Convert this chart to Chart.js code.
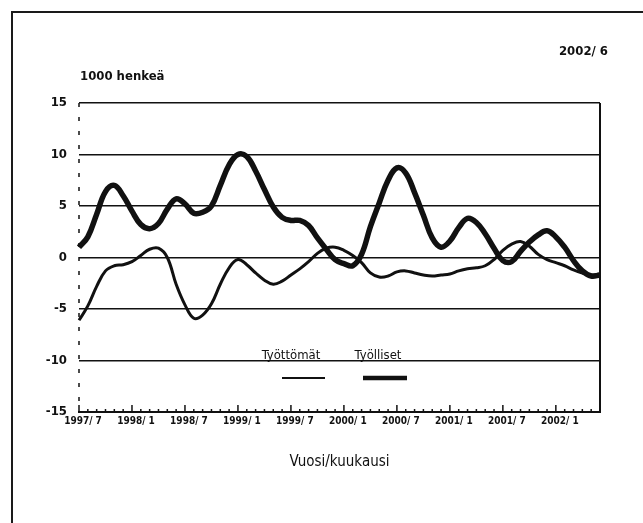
<!DOCTYPE html>
<html>
<head>
<meta charset="utf-8">
<script src="https://cdn.jsdelivr.net/npm/chart.js@4/dist/chart.umd.min.js"></script>
<style>
  html, body { margin: 0; padding: 0; background: #fff; overflow: hidden; }
  #wrap { position: relative; width: 643px; height: 523px; }
  #frame { position: absolute; left: 11px; top: 11px; width: 700px; height: 600px; border: 2px solid #1a1a1a; }
  #c { position: absolute; left: 0; top: 0; }
</style>
</head>
<body>
<div id="wrap">
  <div id="frame"></div>
  <canvas id="c" width="643" height="523"></canvas>
</div>
<script>
// monthly categories 1997/7 .. 2002/6
var months = [
  '1997/7','1997/8','1997/9','1997/10','1997/11','1997/12',
  '1998/1','1998/2','1998/3','1998/4','1998/5','1998/6',
  '1998/7','1998/8','1998/9','1998/10','1998/11','1998/12',
  '1999/1','1999/2','1999/3','1999/4','1999/5','1999/6',
  '1999/7','1999/8','1999/9','1999/10','1999/11','1999/12',
  '2000/1','2000/2','2000/3','2000/4','2000/5','2000/6',
  '2000/7','2000/8','2000/9','2000/10','2000/11','2000/12',
  '2001/1','2001/2','2001/3','2001/4','2001/5','2001/6',
  '2001/7','2001/8','2001/9','2001/10','2001/11','2001/12',
  '2002/1','2002/2','2002/3','2002/4','2002/5','2002/6'
];

// change from a year earlier, 1000 persons
var tyottomat = [
  -6.1, -4.7, -2.8, -1.3, -0.8, -0.7,
  -0.4, 0.2, 0.8, 0.9, 0.0, -2.6,
  -4.6, -5.9, -5.6, -4.5, -2.6, -1.0,
  -0.2, -0.7, -1.5, -2.2, -2.6, -2.3,
  -1.7, -1.1, -0.4, 0.4, 0.9, 1.0,
  0.7, 0.2, -0.5, -1.5, -1.9, -1.8,
  -1.4, -1.3, -1.5, -1.7, -1.8, -1.7,
  -1.6, -1.3, -1.1, -1.0, -0.8, -0.2,
  0.7, 1.3, 1.55, 1.1, 0.3, -0.2,
  -0.5, -0.8, -1.2, -1.5, -1.7, -1.6
];
var tyolliset = [
  1.0, 2.0, 4.2, 6.4, 7.0, 6.0,
  4.5, 3.2, 2.8, 3.3, 4.7, 5.7,
  5.2, 4.3, 4.4, 5.0, 7.0, 9.0,
  10.0, 9.8, 8.4, 6.6, 4.9, 3.9,
  3.6, 3.6, 3.1, 1.9, 0.8, -0.2,
  -0.6, -0.8, 0.3, 3.0, 5.3, 7.5,
  8.7, 8.2, 6.3, 4.1, 1.9, 1.0,
  1.6, 2.9, 3.8, 3.4, 2.3, 0.9,
  -0.3, -0.4, 0.6, 1.5, 2.2, 2.6,
  2.0, 1.0, -0.3, -1.3, -1.8, -1.7
];

var tickMonths = ['1997/7','1998/1','1998/7','1999/1','1999/7','2000/1','2000/7','2001/1','2001/7','2002/1'];
var tickLabels = ['1997/ 7','1998/ 1','1998/ 7','1999/ 1','1999/ 7','2000/ 1','2000/ 7','2001/ 1','2001/ 7','2002/ 1'];
var yTicks = [-15, -10, -5, 0, 5, 10, 15];

var FONT = "'DejaVu Sans Condensed', 'Liberation Sans Narrow', sans-serif";
var INK = '#111';

var extras = {
    id: 'extras',
    afterDraw: function (chart) {
        var ctx = chart.ctx;
        var a = chart.chartArea;
        var x = chart.scales.x;
        ctx.save();
        ctx.strokeStyle = INK;
        // right border of the plot
        ctx.lineWidth = 2;
        ctx.beginPath();
        ctx.moveTo(a.right, a.top);
        ctx.lineTo(a.right, a.bottom);
        ctx.stroke();
        // broken left axis, as in the scanned original
        ctx.lineWidth = 1.5;
        ctx.setLineDash([4, 10]);
        ctx.beginPath();
        ctx.moveTo(a.left, a.top);
        ctx.lineTo(a.left, a.bottom);
        ctx.stroke();
        ctx.setLineDash([]);
        // inward month ticks on the bottom axis
        months.forEach(function (m, i) {
            var px = x.getPixelForValue(i);
            var len = tickMonths.indexOf(m) >= 0 ? 7 : 3;
            ctx.beginPath();
            ctx.moveTo(px, a.bottom);
            ctx.lineTo(px, a.bottom - len);
            ctx.stroke();
        });
        // header texts
        ctx.fillStyle = INK;
        ctx.textBaseline = 'middle';
        ctx.font = 'bold 13px ' + FONT;
        ctx.textAlign = 'right';
        ctx.fillText('2002/ 6', 608, 52);
        ctx.textAlign = 'left';
        ctx.fillText('1000 henkeä', 80, 77);
        // legend inside plot
        var legendPos = [{ tx: 291, x1: 282, x2: 325 }, { tx: 378, x1: 363, x2: 407 }];
        chart.data.datasets.forEach(function (ds, i) {
            var p = legendPos[i];
            ctx.font = '13px ' + FONT;
            ctx.textAlign = 'center';
            ctx.textBaseline = 'alphabetic';
            ctx.fillText(ds.label, p.tx, 359);
            ctx.lineWidth = ds.borderWidth - 1;
            ctx.beginPath();
            ctx.moveTo(p.x1, 378);
            ctx.lineTo(p.x2, 378);
            ctx.stroke();
        });
        ctx.restore();
    }
};

new Chart(document.getElementById('c'), {
    type: 'line',
    data: {
        labels: months,
        datasets: [
            {
                label: 'Työttömät',
                data: tyottomat,
                borderColor: INK,
                borderWidth: 3,
                pointRadius: 0,
                tension: 0.4,
                fill: false
            },
            {
                label: 'Työlliset',
                data: tyolliset,
                borderColor: INK,
                borderWidth: 5.5,
                pointRadius: 0,
                tension: 0.4,
                fill: false
            }
        ]
    },
    options: {
        responsive: false,
        animation: false,
        devicePixelRatio: 1,
        layout: { padding: { left: 0, top: 103, right: 43, bottom: 0 } },
        plugins: {
            legend: { display: false },
            tooltip: { enabled: false }
        },
        scales: {
            x: {
                offset: false,
                grid: { display: false, drawTicks: false },
                border: { display: true, color: INK, width: 2 },
                ticks: {
                    autoSkip: false,
                    maxRotation: 0,
                    labelOffset: 4,
                    padding: 3,
                    color: INK,
                    font: { family: FONT, size: 10, weight: 'bold' },
                    callback: function (value) {
                        var k = tickMonths.indexOf(months[value]);
                        return k >= 0 ? tickLabels[k] : '';
                    }
                },
                title: {
                    display: true,
                    text: 'Vuosi/kuukausi',
                    color: INK,
                    font: { family: FONT, size: 15 },
                    padding: { top: 0, bottom: 52 }
                },
                afterFit: function (scale) { scale.height = 111; }
            },
            y: {
                min: -15,
                max: 15,
                afterBuildTicks: function (scale) {
                    scale.ticks = yTicks.map(function (v) { return { value: v }; });
                },
                grid: { color: INK, lineWidth: 1.5, drawTicks: false },
                border: { display: false },
                ticks: {
                    padding: 12,
                    color: INK,
                    font: { family: FONT, size: 13, weight: 'bold' }
                },
                afterFit: function (scale) { scale.width = 79; }
            }
        }
    },
    plugins: [extras]
});
</script>
</body>
</html>
